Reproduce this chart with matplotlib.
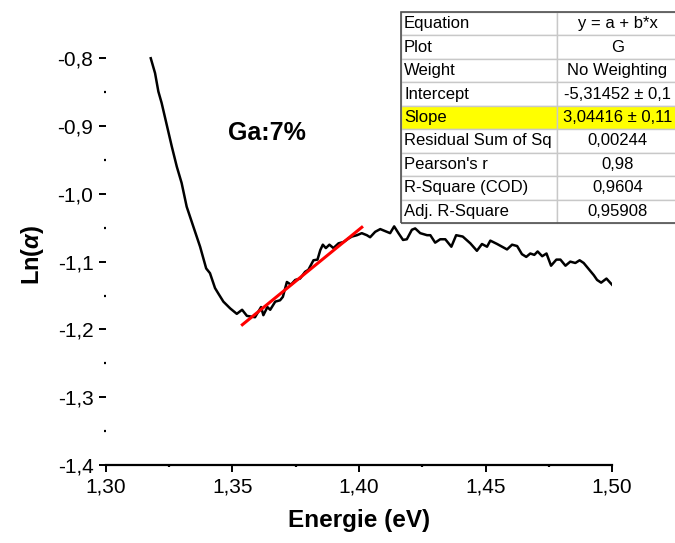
import matplotlib
matplotlib.use("Agg")
import matplotlib.pyplot as plt
from matplotlib.patches import Rectangle

plt.rcParams['font.family'] = ['Liberation Sans', 'DejaVu Sans']
plt.rcParams['mathtext.fontset'] = 'custom'
plt.rcParams['mathtext.it'] = 'Liberation Sans:italic:bold'

energie = [1.3177, 1.3194, 1.3207, 1.3220, 1.3240, 1.3260, 1.3280, 1.3299, 1.3319, 1.3345,
           1.3372, 1.3396, 1.3411, 1.3431, 1.3444, 1.3464, 1.3491, 1.3517, 1.3538, 1.3557,
           1.3589, 1.3613, 1.3622, 1.3638, 1.3649, 1.3669, 1.3688, 1.3699, 1.3715, 1.3731,
           1.3748, 1.3767, 1.3787, 1.3800, 1.3820, 1.3836, 1.3847, 1.3857, 1.3869, 1.3883,
           1.3899, 1.3919, 1.3939, 1.3958, 1.3972, 1.3992, 1.4011, 1.4031, 1.4044, 1.4064,
           1.4084, 1.4110, 1.4123, 1.4139, 1.4156, 1.4174, 1.4189, 1.4209, 1.4222, 1.4242,
           1.4269, 1.4282, 1.4301, 1.4321, 1.4341, 1.4365, 1.4384, 1.4410, 1.4440, 1.4466,
           1.4486, 1.4506, 1.4519, 1.4546, 1.4585, 1.4605, 1.4625, 1.4644, 1.4661, 1.4677,
           1.4693, 1.4706, 1.4724, 1.4741, 1.4759, 1.4780, 1.4796, 1.4816, 1.4835, 1.4855,
           1.4872, 1.4888, 1.4908, 1.4928, 1.4941, 1.4957, 1.4978, 1.5000]
ln_alpha = [-0.800, -0.822, -0.849, -0.866, -0.898, -0.930, -0.960, -0.984, -1.019, -1.048,
            -1.078, -1.110, -1.117, -1.139, -1.147, -1.159, -1.169, -1.177, -1.171, -1.180,
            -1.182, -1.167, -1.179, -1.167, -1.171, -1.159, -1.157, -1.152, -1.130, -1.134,
            -1.127, -1.125, -1.115, -1.112, -1.098, -1.097, -1.083, -1.075, -1.080, -1.075,
            -1.080, -1.073, -1.071, -1.066, -1.063, -1.061, -1.058, -1.061, -1.064, -1.056,
            -1.052, -1.056, -1.058, -1.048, -1.058, -1.068, -1.067, -1.053, -1.051, -1.058,
            -1.061, -1.061, -1.072, -1.067, -1.067, -1.078, -1.061, -1.063, -1.073, -1.084,
            -1.074, -1.078, -1.069, -1.074, -1.082, -1.075, -1.077, -1.089, -1.093, -1.088,
            -1.090, -1.085, -1.092, -1.088, -1.106, -1.097, -1.097, -1.106, -1.100, -1.102,
            -1.098, -1.102, -1.111, -1.120, -1.127, -1.131, -1.125, -1.134]

# linear fit y = a + b*x
a = -5.31452
b = 3.04416
fit_range = [1.3539, 1.4011]

xticks = [1.30, 1.35, 1.40, 1.45, 1.50]
xlabels = ['1,30', '1,35', '1,40', '1,45', '1,50']
yticks = [-1.4, -1.3, -1.2, -1.1, -1.0, -0.9, -0.8]
ylabels = ['-1,4', '-1,3', '-1,2', '-1,1', '-1,0', '-0,9', '-0,8']

table_rows = [
    ['Equation', 'y = a + b*x'],
    ['Plot', 'G'],
    ['Weight', 'No Weighting'],
    ['Intercept', '-5,31452 ± 0,1'],
    ['Slope', '3,04416 ± 0,11'],
    ['Residual Sum of Sq', '0,00244'],
    ["Pearson's r", '0,98'],
    ['R-Square (COD)', '0,9604'],
    ['Adj. R-Square', '0,95908'],
]

fig = plt.figure(figsize=(6.75, 5.43), dpi=100)
ax = fig.add_axes([0.157, 0.1436, 0.7497, 0.7741])

ax.plot(energie, ln_alpha, color='black', lw=1.8)
ax.plot(fit_range, [a + b * e for e in fit_range], color='red', lw=2.2)

ax.set_xlim(1.30, 1.50)
ax.set_ylim(-1.4, -0.78)
ax.set_xticks(xticks)
ax.set_xticklabels(xlabels)
ax.set_xticks([1.325, 1.375, 1.425, 1.475], minor=True)
ax.set_yticks(yticks)
ax.set_yticklabels(ylabels)
ax.set_yticks([-1.35, -1.25, -1.15, -1.05, -0.95, -0.85], minor=True)

for s in ['top', 'right', 'left']:
    ax.spines[s].set_visible(False)
ax.spines['bottom'].set_linewidth(1.6)

ax.tick_params(axis='both', which='major', direction='out', length=5, width=1.4,
               labelsize=15, pad=4)
ax.tick_params(axis='both', which='minor', direction='out', length=1.6, width=1.6)

ax.set_xlabel('Energie (eV)', fontsize=17.5, fontweight='bold', labelpad=9)
ax.set_ylabel(r'Ln($\alpha$)', fontsize=17, fontweight='bold', labelpad=8)

ax.text(1.3635, -0.910, 'Ga:7%', fontsize=18, fontweight='bold', ha='center', va='center')

# fit results table (figure pixel layout)
W, H = 675.0, 543.0
left, split, right = 401.0, 557.0, 680.0
top, rowh = 12.0, 23.45
for i, (name, val) in enumerate(table_rows):
    y0 = top + i * rowh
    fc = '#ffff00' if name == 'Slope' else 'white'
    fig.patches.append(Rectangle((left / W, 1 - (y0 + rowh) / H), (split - left) / W, rowh / H,
                                 transform=fig.transFigure, facecolor=fc,
                                 edgecolor='#c8c8c8', lw=1.0))
    fig.patches.append(Rectangle((split / W, 1 - (y0 + rowh) / H), (right - split) / W, rowh / H,
                                 transform=fig.transFigure, facecolor=fc,
                                 edgecolor='#c8c8c8', lw=1.0))
    yc = 1 - (y0 + rowh / 2) / H
    fig.text((left + 3) / W, yc, name, fontsize=12, ha='left', va='center')
    fig.text(617.5 / W, yc, val, fontsize=12, ha='center', va='center')
fig.patches.append(Rectangle((left / W, 1 - (top + 9 * rowh) / H), (right - left) / W, 9 * rowh / H,
                             transform=fig.transFigure, facecolor='none',
                             edgecolor='#505050', lw=1.2))

fig.savefig('out.png', dpi=100)
